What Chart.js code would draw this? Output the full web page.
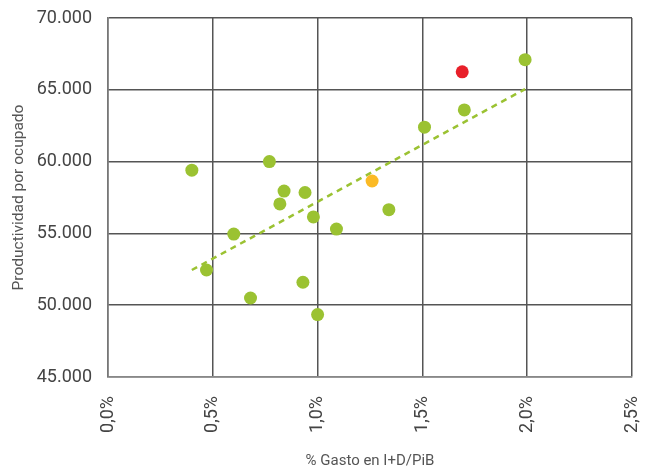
<!DOCTYPE html>
<html>
<head>
<meta charset="utf-8">
<script src="https://cdn.jsdelivr.net/npm/chart.js@4/dist/chart.umd.min.js"></script>
<style>
    html, body { margin: 0; padding: 0; background: #fff; }
    #wrap { width: 653px; height: 472px; }
</style>
</head>
<body>
<div id="wrap"><canvas id="chart"></canvas></div>
<script>
// % gasto en I+D sobre PIB (x) y productividad por ocupado (y)
const gastoID = [0.40, 0.77, 0.84, 0.82, 0.94, 0.98, 0.60, 0.47, 0.68, 0.93, 1.00, 1.09, 1.34, 1.51, 1.70, 1.99];
const productividad = [59400, 60000, 57950, 57050, 57850, 56150, 54950, 52450, 50500, 51600, 49350, 55300, 56650, 62400, 63600, 67100];

// puntos destacados
const amarilloX = [1.26];
const amarilloY = [58650];
const rojoX = [1.69];
const rojoY = [66250];

// linea de tendencia (extremos)
const tendenciaX = [0.40, 1.99];
const tendenciaY = [52450, 65050];

const xTicks = [0, 0.5, 1, 1.5, 2, 2.5];
const yTicks = [45000, 50000, 55000, 60000, 65000, 70000];

const toPoints = (xs, ys) => xs.map((x, i) => ({ x: x, y: ys[i] }));

const tickFont = { family: 'Roboto', size: 18 };

// no dejar que las etiquetas empujen el area del grafico
function noLabelPadding(axis) {
    axis.paddingLeft = 0;
    axis.paddingRight = 0;
    axis.paddingTop = 0;
    axis.paddingBottom = 0;
}

new Chart(document.getElementById('chart'), {
    type: 'scatter',
    data: {
        datasets: [
            {
                data: toPoints(gastoID, productividad),
                backgroundColor: '#9BC232',
                borderWidth: 0,
                pointRadius: 6.5,
                order: 1
            },
            {
                data: toPoints(amarilloX, amarilloY),
                backgroundColor: '#FBBA25',
                borderWidth: 0,
                pointRadius: 6.5,
                order: 1
            },
            {
                data: toPoints(rojoX, rojoY),
                backgroundColor: '#E8202A',
                borderWidth: 0,
                pointRadius: 6.5,
                order: 1
            },
            {
                type: 'line',
                data: toPoints(tendenciaX, tendenciaY),
                borderColor: '#9BC232',
                borderWidth: 2.5,
                borderDash: [6, 5],
                pointRadius: 0,
                fill: false,
                order: 2
            }
        ]
    },
    options: {
        responsive: true,
        maintainAspectRatio: false,
        animation: false,
        layout: { padding: { top: 18, right: 21, left: 0, bottom: 0 } },
        plugins: {
            legend: { display: false },
            tooltip: { enabled: false }
        },
        scales: {
            x: {
                type: 'linear',
                min: 0,
                max: 2.5,
                afterBuildTicks: axis => { axis.ticks = xTicks.map(v => ({ value: v })); },
                afterFit: axis => { axis.height = 95; noLabelPadding(axis); },
                grid: { color: '#555', lineWidth: 1.5, drawTicks: false },
                border: { color: '#888', width: 1.5 },
                ticks: {
                    font: tickFont,
                    color: '#444',
                    padding: 19,
                    minRotation: 90,
                    maxRotation: 90,
                    callback: v => v.toFixed(1).replace('.', ',') + '%'
                },
                title: {
                    display: true,
                    text: '% Gasto en I+D/PiB',
                    font: { family: 'Roboto', size: 15 },
                    color: '#555',
                    padding: { top: 0, bottom: 2 }
                }
            },
            y: {
                min: 45000,
                max: 70000,
                afterBuildTicks: axis => { axis.ticks = yTicks.map(v => ({ value: v })); },
                afterFit: axis => { axis.width = 108; noLabelPadding(axis); },
                grid: { color: '#555', lineWidth: 1.5, drawTicks: false },
                border: { color: '#777', width: 1.5 },
                ticks: {
                    font: tickFont,
                    color: '#444',
                    padding: 16,
                    callback: v => v.toLocaleString('de-DE')
                },
                title: {
                    display: true,
                    text: 'Productividad por ocupado',
                    font: { family: 'Roboto', size: 15.5 },
                    color: '#555',
                    padding: { top: 10, bottom: 0 }
                }
            }
        }
    }
});
</script>
</body>
</html>
